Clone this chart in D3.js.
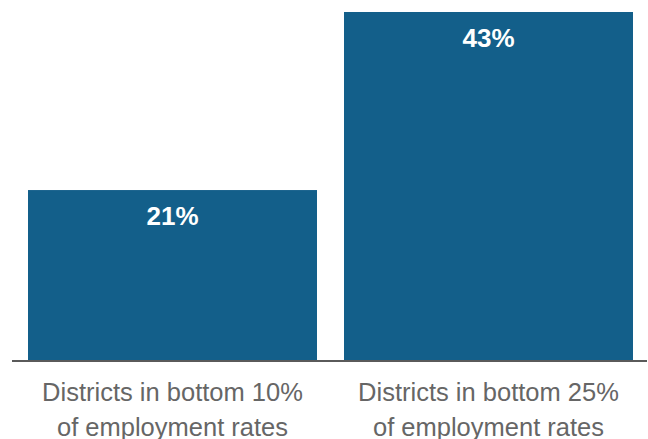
<!DOCTYPE html>
<html>
<head>
<meta charset="utf-8">
<script src="https://cdn.jsdelivr.net/npm/d3@7"></script>
<style>
  body { margin: 0; background: #fff; }
  text { font-family: "Liberation Sans", Arial, sans-serif; }
</style>
</head>
<body>
<div id="chart"></div>
<script>
    // data
    const categories = ["Districts in bottom 10%|of employment rates", "Districts in bottom 25%|of employment rates"]
    const values = [21, 43]
    const valueLabels = ["21%", "43%"]

    const width = 648, height = 439

    const svg = d3.select("#chart")
      .append("svg")
        .attr("width", width)
        .attr("height", height)

    // x scale -> bars
    const x = d3.scaleBand()
      .domain(categories)
      .range([28, 633])
      .paddingInner(27 / 316)
      .paddingOuter(0)

    // y scale
    const y = d3.scaleLinear()
      .domain([0, 43])
      .range([360, 12])

    svg.append("g")
      .selectAll("rect")
      .data(values)
      .join("rect")
        .attr("x", (d, i) => x(categories[i]))
        .attr("y", d => y(d))
        .attr("width", x.bandwidth())
        .attr("height", d => y(0) - y(d))
        .attr("fill", "#135f8a")

    // value labels in bars
    svg.append("g")
      .selectAll("text")
      .data(values)
      .join("text")
        .attr("x", (d, i) => x(categories[i]) + x.bandwidth() / 2)
        .attr("y", d => y(d) + 35)
        .attr("text-anchor", "middle")
        .attr("fill", "#fff")
        .style("font-size", "26px")
        .style("font-weight", "bold")
        .text((d, i) => valueLabels[i])

    // baseline
    svg.append("line")
      .attr("x1", 12)
      .attr("x2", 647)
      .attr("y1", y(0) + 1)
      .attr("y2", y(0) + 1)
      .attr("stroke", "#5a5a5a")
      .attr("stroke-width", 2)

    // category labels, two lines each
    const cat = svg.append("g")
      .selectAll("text")
      .data(categories)
      .join("text")
        .attr("x", d => x(d) + x.bandwidth() / 2)
        .attr("y", 401)
        .attr("text-anchor", "middle")
        .attr("fill", "#666")
        .style("font-size", "25.5px")

    cat.selectAll("tspan")
      .data(d => d.split("|").map(t => ({ t, x: x(d) + x.bandwidth() / 2 })))
      .join("tspan")
        .attr("x", d => d.x)
        .attr("dy", (d, i) => i === 0 ? 0 : 35)
        .text(d => d.t)
</script>
</body>
</html>
